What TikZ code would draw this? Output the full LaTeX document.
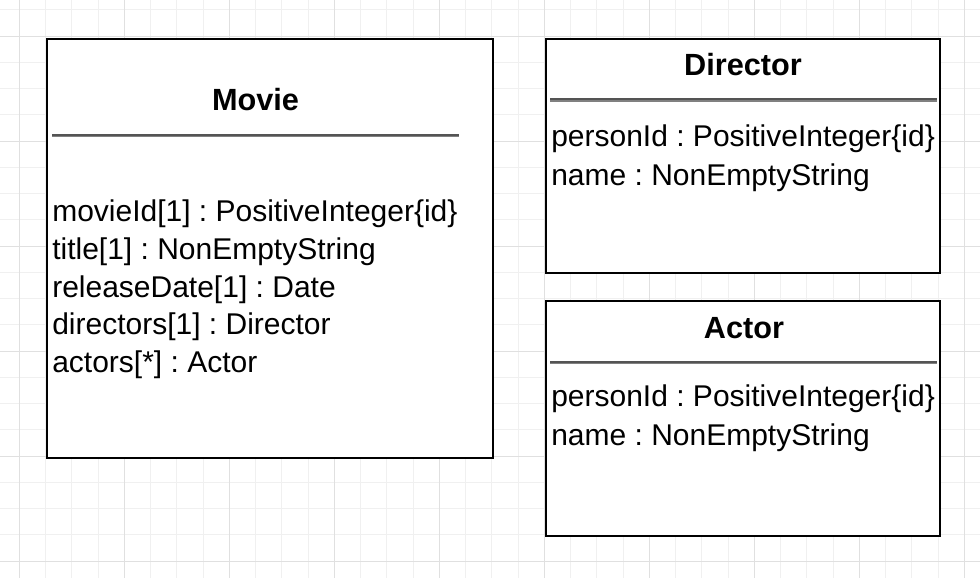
\documentclass[tikz,border=0pt]{standalone}
\usepackage{fontspec}
\setmainfont{Liberation Sans}
\usetikzlibrary{positioning}
\frenchspacing

\tikzset{
  minorgrid/.style={draw=black!6, line width=0.75pt},
  majorgrid/.style={draw=black!12, line width=0.75pt},
  classbox/.style={draw, line width=1.5pt, anchor=north west, inner sep=0pt},
  septop/.style={draw=black!67, line width=1.3pt},
  sepbottom/.style={draw=black!50, line width=1.3pt},
  classname/.style={anchor=base, inner sep=0pt, font=\bfseries\fontsize{23pt}{27pt}\selectfont},
  attr/.style={anchor=base west, inner sep=0pt, font=\fontsize{22.5pt}{28pt}\selectfont}
}

\begin{document}
\begin{tikzpicture}[x=0.75pt,y=-0.75pt]
  \useasboundingbox[fill=white] (0,0) rectangle (980,578);

  % grid
  \foreach \k in {0,...,36}
    \draw[minorgrid] ({19.3+26.25*\k},0) -- ({19.3+26.25*\k},578);
  \foreach \k in {-1,...,20}
    \draw[minorgrid] (0,{36+26.25*\k}) -- (980,{36+26.25*\k});
  \foreach \k in {0,...,9}
    \draw[majorgrid] ({19.3+105*\k},0) -- ({19.3+105*\k},578);
  \foreach \k in {0,...,5}
    \draw[majorgrid] (0,{36+105*\k}) -- (980,{36+105*\k});

  % class Movie
  \node[classbox, fill=white, minimum width=334.5pt, minimum height=314.25pt] (movie) at (46,38) {};
  \node[classname] (movie-name) at (255.5,110) {Movie};
  \draw[septop] (52,134.9) -- (459,134.9);
  \draw[sepbottom] (52,136.5) -- (459,136.5);
  \node[attr] (movie-id) at (52,221.7) {movieId[1] : PositiveInteger\{id\}};
  \node[attr] (movie-title) at (52,259.4) {title[1] : NonEmptyString};
  \node[attr] (movie-date) at (52,297.1) {releaseDate[1] : Date};
  \node[attr] (movie-directors) at (52,334.8) {directors[1] : Director};
  \node[attr] (movie-actors) at (52,372.5) {actors[*] : Actor};

  % class Director
  \node[classbox, fill=white, minimum width=295.5pt, minimum height=175.5pt] (director) at (545,38) {};
  \node[classname] (director-name) at (743,75) {Director};
  \draw[septop] (550,99.2) -- (937,99.2);
  \draw[sepbottom] (550,100.9) -- (937,100.9);
  \node[attr] (director-id) at (551,146.7) {personId : PositiveInteger\{id\}};
  \node[attr] (director-nm) at (551,185) {name : NonEmptyString};

  % class Actor
  \node[classbox, fill=white, minimum width=295.5pt, minimum height=176.25pt] (actor) at (545,300) {};
  \node[classname] (actor-name) at (744,338) {Actor};
  \draw[septop] (550,361.9) -- (937,361.9);
  \draw[sepbottom] (550,363.5) -- (937,363.5);
  \node[attr] (actor-id) at (551,406.7) {personId : PositiveInteger\{id\}};
  \node[attr] (actor-nm) at (551,445) {name : NonEmptyString};
\end{tikzpicture}
\end{document}
